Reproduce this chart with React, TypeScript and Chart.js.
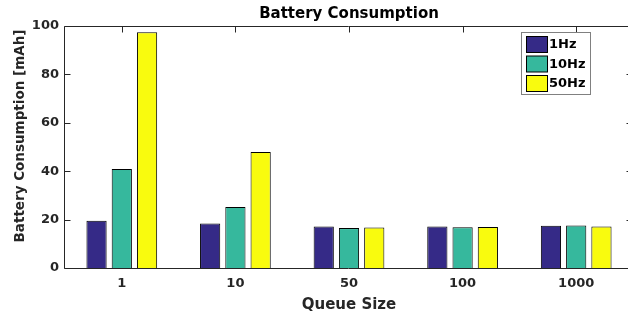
import React, { useEffect, useRef } from "react";
import { Chart, registerables } from "chart.js";

Chart.register(...registerables);

const TITLE = "Battery Consumption";
const X_TITLE = "Queue Size";
const Y_TITLE = "Battery Consumption [mAh]";
const categories = ["1", "10", "50", "100", "1000"];
const seriesNames = ["1Hz", "10Hz", "50Hz"];
const hz1 = [19.5, 18.4, 17.1, 17.2, 17.5];
const hz10 = [40.9, 25.2, 16.5, 16.8, 17.6];
const hz50 = [97.4, 47.9, 16.7, 16.9, 17.1];
const colors = ["#352a87", "#36b89d", "#f9fb0e"];
const yMin = 0;
const yMax = 100;
const yStep = 20;

const FONT = '"DejaVu Sans", "Liberation Sans", sans-serif';
const AXIS = "#262626";

const framePlugin = {
  id: "frame",
  afterDatasetsDraw(chart: any) {
    const { ctx, chartArea: a, scales } = chart;
    const xs = scales.x;
    const ys = scales.y;
    const L = Math.round(a.left) - 0.5;
    const R = Math.round(a.right) - 0.5;
    const T = Math.round(a.top) + 0.5;
    const B = Math.round(a.bottom) + 0.5;
    ctx.save();
    ctx.strokeStyle = AXIS;
    ctx.lineWidth = 1;
    ctx.beginPath();
    ctx.rect(L, T, R - L, B - T);
    xs.ticks.forEach((_: any, i: number) => {
      const px = Math.round(xs.getPixelForTick(i)) + 0.5;
      ctx.moveTo(px, T);
      ctx.lineTo(px, T + 6);
    });
    ys.ticks.forEach((t: any) => {
      const py = Math.round(ys.getPixelForValue(t.value)) + 0.5;
      ctx.moveTo(L, py);
      ctx.lineTo(L + 6, py);
      ctx.moveTo(R, py);
      ctx.lineTo(R - 6, py);
    });
    ctx.stroke();

    // main title
    const cx = (a.left + a.right) / 2;
    ctx.fillStyle = "#000";
    ctx.font = `bold 15px ${FONT}`;
    ctx.textAlign = "center";
    ctx.textBaseline = "alphabetic";
    ctx.fillText(TITLE, cx, 18);

    // y title
    ctx.save();
    ctx.translate(24, 136);
    ctx.rotate(-Math.PI / 2);
    ctx.fillStyle = AXIS;
    ctx.font = `bold 13.5px ${FONT}`;
    ctx.textAlign = "center";
    ctx.textBaseline = "alphabetic";
    ctx.fillText(Y_TITLE, 0, 0);
    ctx.restore();

    // legend
    const lx = 521.5;
    const ly = 32.5;
    const lw = 69;
    const lh = 62;
    ctx.fillStyle = "#fff";
    ctx.fillRect(lx, ly, lw, lh);
    ctx.strokeStyle = "#808080";
    ctx.strokeRect(lx, ly, lw, lh);
    ctx.font = `bold 13px ${FONT}`;
    ctx.textAlign = "left";
    ctx.textBaseline = "middle";
    chart.data.datasets.forEach((ds: any, i: number) => {
      const sy = 36.5 + i * 19.5;
      ctx.fillStyle = ds.backgroundColor;
      ctx.fillRect(526.5, sy, 21, 16);
      ctx.strokeStyle = "#000";
      ctx.strokeRect(526.5, sy, 21, 16);
      ctx.fillStyle = "#000";
      ctx.fillText(ds.label, 549, sy + 8.5);
    });
    ctx.restore();
  },
};

export default function App() {
  const ref = useRef<HTMLCanvasElement | null>(null);
  useEffect(() => {
    if (!ref.current) return;
    const series = [hz1, hz10, hz50];
    const chart = new Chart(ref.current, {
      type: "bar",
      data: {
        labels: categories,
        datasets: series.map((d, i) => ({
          label: seriesNames[i],
          data: d,
          backgroundColor: colors[i],
          borderColor: "#000",
          borderWidth: 1,
          categoryPercentage: 0.667,
          barPercentage: 0.8,
        })),
      },
      options: {
        animation: false,
        responsive: false,
        devicePixelRatio: 1,
        layout: { padding: { left: 0, right: 7, top: 26, bottom: 0 } },
        plugins: {
          legend: { display: false },
          title: { display: false },
          tooltip: { enabled: false },
        },
        scales: {
          x: {
            grid: { display: false, drawTicks: false },
            border: { display: false },
            ticks: {
              color: AXIS,
              font: { family: FONT, size: 13, weight: "bold" },
              padding: 8,
              maxRotation: 0,
            },
            title: {
              display: true,
              text: X_TITLE,
              color: AXIS,
              font: { family: FONT, size: 15, weight: "bold" },
              padding: { top: 0, bottom: 0 },
            },
            afterFit(scale: any) {
              scale.height = 46;
            },
          },
          y: {
            min: yMin,
            max: yMax,
            grid: { display: false, drawTicks: false },
            border: { display: false },
            ticks: {
              stepSize: yStep,
              color: AXIS,
              font: { family: FONT, size: 13, weight: "bold" },
              padding: 6,
            },
            afterFit(scale: any) {
              scale.width = 65;
            },
          },
        },
      },
      plugins: [framePlugin],
    });
    return () => chart.destroy();
  }, []);
  return (
    <div style={{ position: "fixed", left: 0, top: 0, width: 628, height: 314, overflow: "hidden", background: "#fff" }}>
      <canvas ref={ref} width={640} height={314} style={{ display: "block" }} />
    </div>
  );
}
